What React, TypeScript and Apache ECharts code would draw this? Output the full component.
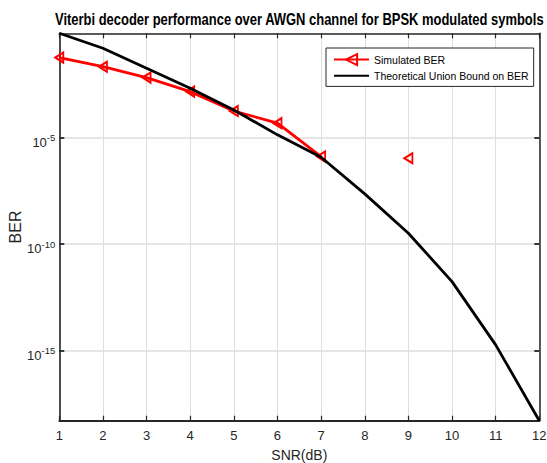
import React, { useEffect, useRef } from 'react';
import * as echarts from 'echarts';

const snr = [1, 2, 3, 4, 5, 6, 7, 8, 9, 10, 11, 12];
const simulatedBer: (number | null)[] = [5.75e-2, 2.14e-2, 6.6e-3, 1.45e-3, 1.78e-4, 4.8e-5, 1.29e-6, null, 1.07e-6, null, null, null];
const unionBoundBer = [7.94e-1, 1.58e-1, 1.82e-2, 2.09e-3, 2.0e-4, 1.35e-5, 1.2e-6, 2.29e-8, 3.24e-10, 1.74e-12, 1.86e-15, 5.1e-19];
const yTickExponents = [-15, -10, -5];
const titleText = 'Viterbi decoder performance over AWGN channel for BPSK modulated symbols';
const seriesNames = ['Simulated BER', 'Theoretical Union Bound on BER'];

const REG = "'Liberation Sans', Arial, sans-serif";
const AX = '#262626';
const GRID = '#dedede';

export default function App() {
  const ref = useRef<HTMLDivElement>(null);
  useEffect(() => {
    document.body.style.margin = '0';
    if (!ref.current) return;
    const chart = echarts.init(ref.current, undefined, { renderer: 'svg' });
    const yMin = Math.log10(Math.min(...unionBoundBer));
    const yMax = Math.log10(Math.max(...unionBoundBer));
    const toLog = (arr: (number | null)[]) => snr.map((x, i) => [x, arr[i] == null ? '-' : Math.log10(arr[i] as number)]);
    const gridL = 59.3, gridT = 33.3, gridW = 480, gridH = 387.4;
    const common = { min: 1, max: 12, interval: 1, type: 'value' };
    chart.setOption({
      animation: false,
      backgroundColor: '#fff',
      grid: { left: gridL, top: gridT, width: gridW, height: gridH, containLabel: false, outerBoundsMode: 'none' },
      graphic: [
        {
          type: 'text', x: gridL + gridW / 2, y: 20, scaleX: 0.81,
          style: { text: titleText, fontFamily: REG, fontWeight: 'bold', fontSize: 16, fill: '#000', textAlign: 'center', textVerticalAlign: 'middle' },
        },
      ],
      legend: {
        left: 326, top: 48, orient: 'vertical', itemWidth: 35, itemHeight: 14, itemGap: 4,
        padding: [5, 5, 5, 7], borderColor: AX, borderWidth: 1, backgroundColor: '#fff',
        textStyle: { fontFamily: REG, fontSize: 10.5, color: '#000' },
        data: [
          { name: seriesNames[0] },
          { name: seriesNames[1], itemStyle: { opacity: 0 } },
        ],
      },
      xAxis: [
        {
          ...common, position: 'bottom',
          name: 'SNR(dB)', nameLocation: 'middle', nameGap: 27, nameMoveOverlap: false,
          nameTextStyle: { fontFamily: REG, fontSize: 14, color: AX },
          axisLine: { show: true, onZero: false, lineStyle: { color: AX, width: 1.8 } },
          axisTick: { show: true, inside: true, length: 5, lineStyle: { color: AX, width: 1.2 } },
          axisLabel: { show: true, margin: 8, fontFamily: REG, fontSize: 13, color: AX },
          splitLine: { show: true, lineStyle: { color: GRID, width: 1 } },
        },
        {
          ...common, position: 'top',
          axisLine: { show: true, onZero: false, lineStyle: { color: AX, width: 1.5 } },
          axisTick: { show: true, inside: true, length: 5, lineStyle: { color: AX, width: 1.2 } },
          axisLabel: { show: false },
          splitLine: { show: false },
        },
      ],
      yAxis: [
        {
          type: 'value', min: yMin, max: yMax, position: 'left',
          name: 'BER', nameLocation: 'middle', nameGap: 36, nameRotate: 90, nameMoveOverlap: false,
          nameTextStyle: { fontFamily: REG, fontSize: 16, color: AX },
          axisLine: { show: true, onZero: false, lineStyle: { color: AX, width: 1.6 } },
          axisTick: { show: true, inside: true, length: 5, customValues: yTickExponents, lineStyle: { color: AX, width: 1.8 } },
          axisLabel: {
            show: true, margin: 4, customValues: yTickExponents,
            formatter: (v: number) => `{b|10}{s|${Math.round(v)}}`,
            rich: {
              b: { fontFamily: REG, fontSize: 13, color: AX, lineHeight: 14, verticalAlign: 'bottom' },
              s: { fontFamily: REG, fontSize: 9.5, color: AX, lineHeight: 22, verticalAlign: 'middle' },
            },
          },
          splitLine: { show: true, lineStyle: { color: GRID, width: 1.5 } },
        },
        {
          type: 'value', min: yMin, max: yMax, position: 'right',
          axisLine: { show: true, onZero: false, lineStyle: { color: AX, width: 1.5 } },
          axisTick: { show: true, inside: true, length: 5, customValues: yTickExponents, lineStyle: { color: AX, width: 1.8 } },
          axisLabel: { show: false },
          splitLine: { show: false },
        },
      ],
      series: [
        {
          name: seriesNames[0], type: 'line', xAxisIndex: 0, yAxisIndex: 0,
          data: toLog(simulatedBer),
          symbol: 'triangle', symbolRotate: 90, symbolSize: [10, 8], showSymbol: true, showAllSymbol: true,
          itemStyle: { color: 'rgba(255,255,255,0)', borderColor: '#ff0000', borderWidth: 2 },
          lineStyle: { color: '#ff0000', width: 2.8 },
          z: 3,
        },
        {
          name: seriesNames[1], type: 'line', xAxisIndex: 0, yAxisIndex: 0,
          data: toLog(unionBoundBer),
          symbol: 'none',
          itemStyle: { color: '#000' },
          lineStyle: { color: '#000', width: 2.8 },
          z: 4,
        },
      ],
    });
    return () => chart.dispose();
  }, []);
  return <div ref={ref} style={{ width: 547, height: 463 }} />;
}
